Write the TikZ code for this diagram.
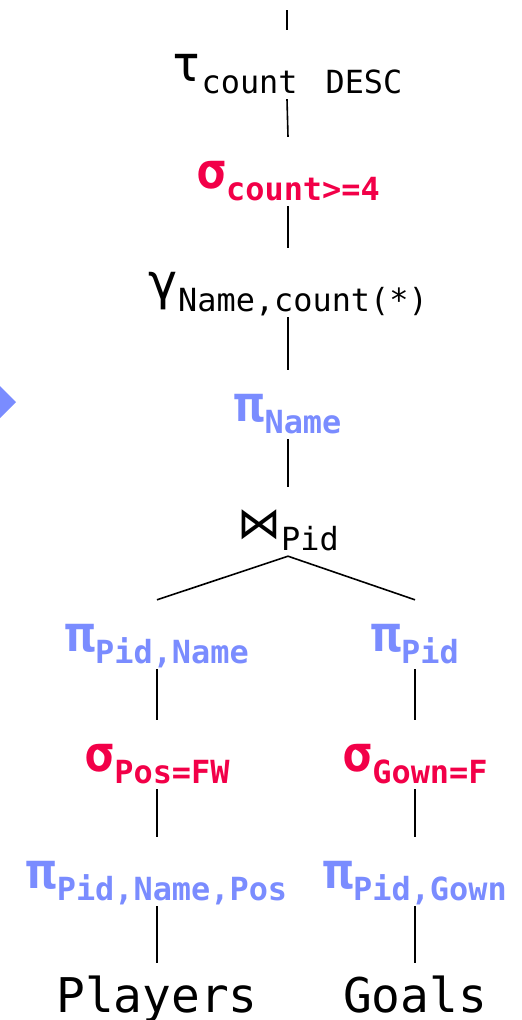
\documentclass[tikz,border=0pt]{standalone}
\usepackage{fontspec}
\setmonofont{DejaVu Sans Mono}
\newfontfamily\symfont{DejaVu Sans}
\definecolor{opred}{RGB}{242,0,72}
\definecolor{opblue}{RGB}{122,140,255}
% operator symbol with its lowered subscript
\newcommand\opname[2]{\raisebox{-8bp}{\fontsize{50}{50}\selectfont #1}\raisebox{-20bp}{\fontsize{32}{32}\selectfont #2}}
\newcommand\joinname[1]{\raisebox{-8bp}{\symfont\fontsize{44}{44}\selectfont ⋈}\raisebox{-20bp}{\fontsize{32}{32}\selectfont #1}}
\tikzset{
  op/.style={anchor=base, inner sep=0pt, text height=43bp, text depth=26bp, font=\ttfamily},
  opfilter/.style={op, text=opred, font=\ttfamily\bfseries},
  opproj/.style={op, text=opblue, font=\ttfamily\bfseries},
  rel/.style={anchor=base, inner sep=0pt, text height=49bp, text depth=10bp, font=\ttfamily\fontsize{48}{48}\selectfont},
  edge/.style={draw=black, line width=1.6bp}
}
\begin{document}
\begin{tikzpicture}[x=1bp, y=-1bp]
\useasboundingbox (0,0) rectangle (522,1020);
% operator tree
\coordinate (out) at (287,10);
\node[op] (sort) at (287,73) {\opname{τ}{count\hspace{28bp}DESC}};
\node[opfilter] (having) at (288,180) {\opname{σ}{count>=4}};
\node[op] (group) at (288,291) {\opname{γ}{Name,count(*)}};
\node[opproj] (proj) at (288,413) {\opname{π}{Name}};
\node[op] (join) at (288,530) {\joinname{Pid}};
\node[opproj] (projL) at (157,643) {\opname{π}{Pid,Name}};
\node[opproj] (projR) at (415,643) {\opname{π}{Pid}};
\node[opfilter] (selL) at (157,763) {\opname{σ}{Pos=FW}};
\node[opfilter] (selR) at (415,763) {\opname{σ}{Gown=F}};
\node[opproj] (scanL) at (157,880) {\opname{π}{Pid,Name,Pos}};
\node[opproj] (scanR) at (415,880) {\opname{π}{Pid,Gown}};
\node[rel] (players) at (157,1012) {Players};
\node[rel] (goals) at (415,1012) {Goals};
% connectors
\draw[edge] (out) -- (sort.north);
\draw[edge] (sort.south) -- (having.north);
\draw[edge] (having.south) -- (group.north);
\draw[edge] (group.south) -- (proj.north);
\draw[edge] (proj.south) -- (join.north);
\draw[edge] (join.south) -- (projL.north);
\draw[edge] (join.south) -- (projR.north);
\draw[edge] (projL.south) -- (selL.north);
\draw[edge] (projR.south) -- (selR.north);
\draw[edge] (selL.south) -- (scanL.north);
\draw[edge] (selR.south) -- (scanR.north);
\draw[edge] (scanL.south) -- (players.north);
\draw[edge] (scanR.south) -- (goals.north);
% pointer at the left edge
\fill[opblue] (0,386) -- (16,402) -- (0,418) -- cycle;
\end{tikzpicture}
\end{document}
